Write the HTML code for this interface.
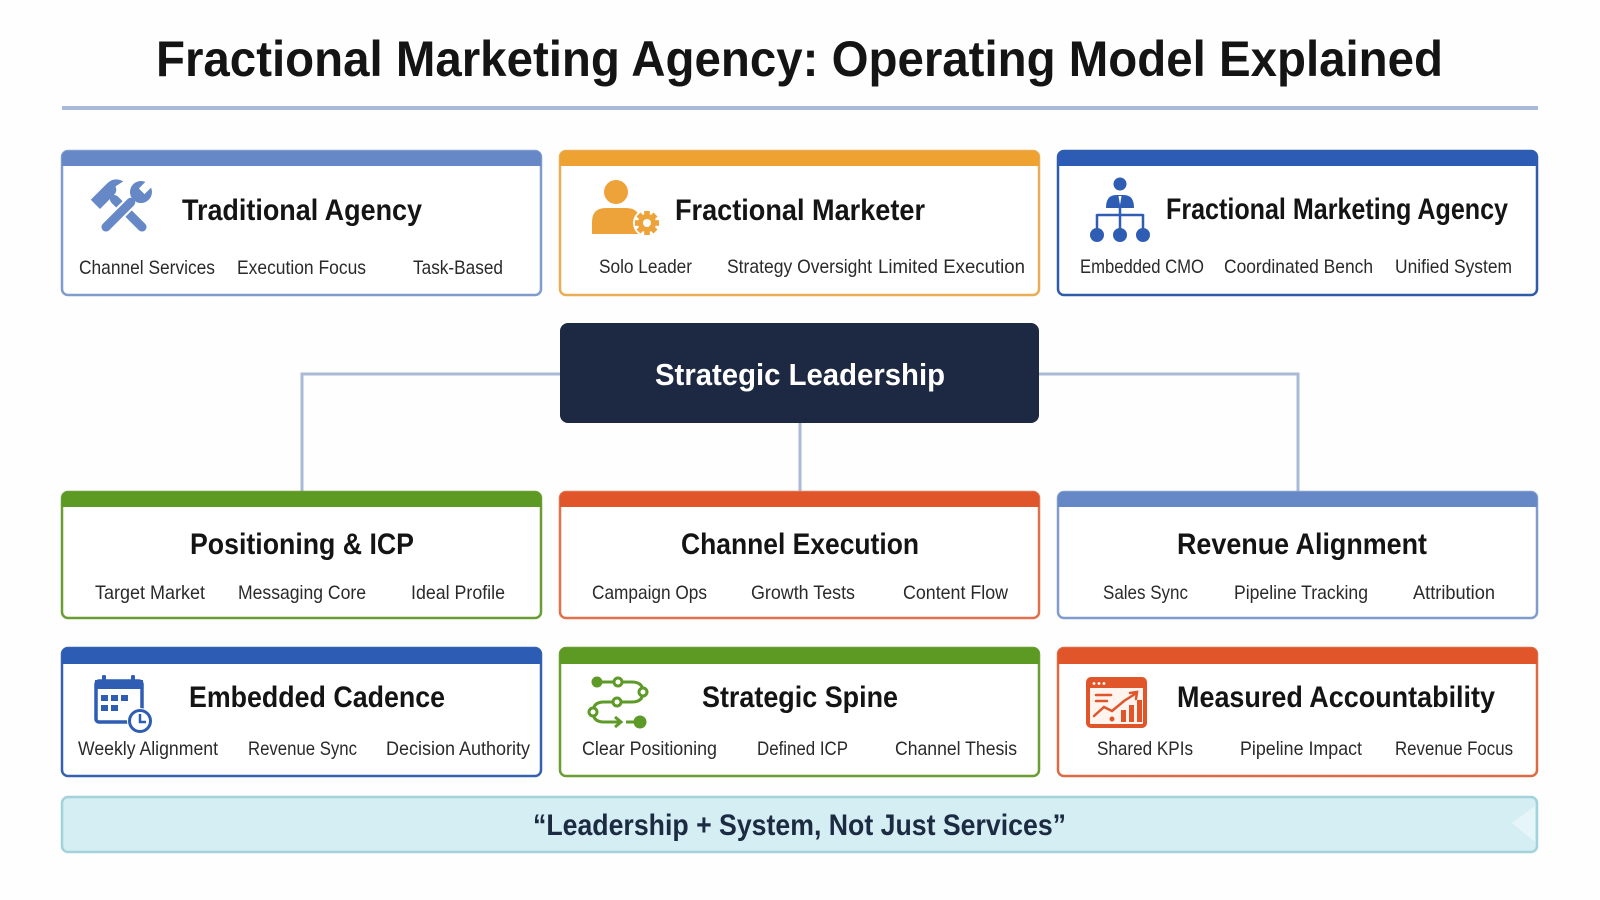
<!DOCTYPE html>
<html>
<head>
<meta charset="utf-8">
<style>
html,body{margin:0;padding:0;background:#ffffff;}
svg{display:block;}
.t{font-family:"Liberation Sans",Arial,sans-serif;font-weight:bold;fill:#141414;}
.s{font-family:"Liberation Sans",Arial,sans-serif;font-size:19.5px;fill:#2a2a2a;}
.ct{font-size:30px;}
</style>
</head>
<body>
<svg width="1600" height="900" viewBox="0 0 1600 900" xmlns="http://www.w3.org/2000/svg">
<rect x="0" y="0" width="1600" height="900" fill="#fefefe"/>

<!-- Title -->
<text class="t" x="156" y="76" font-size="50" textLength="1287" lengthAdjust="spacingAndGlyphs">Fractional Marketing Agency: Operating Model Explained</text>
<rect x="62" y="106" width="1476" height="4" fill="#a9b9d8"/>

<!-- Connectors -->
<g stroke="#a9b9d6" stroke-width="3" fill="none">
<polyline points="560,374 302,374 302,494"/>
<polyline points="1039,374 1298,374 1298,494"/>
<line x1="800" y1="423" x2="800" y2="494"/>
</g>

<!-- Row 1 cards -->
<rect x="62" y="151" width="479" height="144" rx="6" fill="#fff" stroke="#809ccd" stroke-width="2.5"/>
<path d="M62,166 V157 Q62,151 68,151 H535 Q541,151 541,157 V166 Z" fill="#6688c6"/>
<rect x="560" y="151" width="479" height="144" rx="6" fill="#fff" stroke="#e8ad55" stroke-width="2.5"/>
<path d="M560,166 V157 Q560,151 566,151 H1033 Q1039,151 1039,157 V166 Z" fill="#eda232"/>
<rect x="1058" y="151" width="479" height="144" rx="6" fill="#fff" stroke="#2f5ba9" stroke-width="2.5"/>
<path d="M1058,166 V157 Q1058,151 1064,151 H1531 Q1537,151 1537,157 V166 Z" fill="#2c5cb4"/>

<!-- Icon: hammer & wrench -->
<g fill="#6688c6">
  <g transform="translate(124,209) rotate(-45)">
    <rect x="-4.5" y="-18" width="9" height="48" rx="4.5"/>
    <path d="M-17,-30 H6 Q16,-30 19,-20 L10,-22 Q8,-17 3,-17 H-17 Z"/>
  </g>
  <g transform="translate(124,209) rotate(45)">
    <rect x="-6.5" y="-16" width="13" height="48" rx="6.5" fill="#fff"/>
    <rect x="-4.5" y="-14" width="9" height="44" rx="4.5"/>
    <circle cx="0" cy="-24" r="11"/>
    <rect x="-4" y="-38" width="8" height="13" fill="#fff"/>
  </g>
</g>

<!-- Icon: person + gear -->
<g fill="#eea23a">
  <circle cx="616" cy="192" r="12"/>
  <path d="M592,234 V222 Q592,208 606,208 H626 Q640,208 640,222 V234 Z"/>
  <circle cx="647" cy="223" r="14" fill="#fff"/>
  <g transform="translate(647,223)">
    <rect x="-2.8" y="-12" width="5.6" height="24"/>
    <rect x="-2.8" y="-12" width="5.6" height="24" transform="rotate(45)"/>
    <rect x="-2.8" y="-12" width="5.6" height="24" transform="rotate(90)"/>
    <rect x="-2.8" y="-12" width="5.6" height="24" transform="rotate(135)"/>
    <circle r="9"/>
    <circle r="4" fill="#fff"/>
  </g>
</g>

<!-- Icon: org chart -->
<g fill="#2f5db3">
  <circle cx="1120" cy="184" r="6.5"/>
  <path d="M1106,208 Q1106,195 1116,195 H1124 Q1134,195 1134,208 Z"/>
  <path d="M1118.5,196 H1121.5 L1120,205 Z" fill="#fff"/>
  <g stroke="#2f5db3" stroke-width="2.5" fill="none">
    <line x1="1120" y1="207" x2="1120" y2="230"/>
    <line x1="1097" y1="215" x2="1143" y2="215"/>
    <line x1="1097" y1="214" x2="1097" y2="230"/>
    <line x1="1143" y1="214" x2="1143" y2="230"/>
  </g>
  <circle cx="1097" cy="235" r="7"/>
  <circle cx="1120" cy="235" r="7"/>
  <circle cx="1143" cy="235" r="7"/>
</g>

<!-- Row 1 text -->
<text class="t ct" x="182" y="220" textLength="240" lengthAdjust="spacingAndGlyphs">Traditional Agency</text>
<text class="s" x="79" y="274" textLength="136" lengthAdjust="spacingAndGlyphs">Channel Services</text>
<text class="s" x="237" y="274" textLength="129" lengthAdjust="spacingAndGlyphs">Execution Focus</text>
<text class="s" x="413" y="274" textLength="90" lengthAdjust="spacingAndGlyphs">Task-Based</text>

<text class="t ct" x="675" y="220" textLength="250" lengthAdjust="spacingAndGlyphs">Fractional Marketer</text>
<text class="s" x="599" y="273" textLength="93" lengthAdjust="spacingAndGlyphs">Solo Leader</text>
<text class="s" x="727" y="273" textLength="145" lengthAdjust="spacingAndGlyphs">Strategy Oversight</text>
<text class="s" x="878" y="273" textLength="147" lengthAdjust="spacingAndGlyphs">Limited Execution</text>

<text class="t ct" x="1166" y="219" textLength="342" lengthAdjust="spacingAndGlyphs">Fractional Marketing Agency</text>
<text class="s" x="1080" y="273" textLength="124" lengthAdjust="spacingAndGlyphs">Embedded CMO</text>
<text class="s" x="1224" y="273" textLength="149" lengthAdjust="spacingAndGlyphs">Coordinated Bench</text>
<text class="s" x="1395" y="273" textLength="117" lengthAdjust="spacingAndGlyphs">Unified System</text>

<!-- Strategic Leadership -->
<rect x="560" y="323" width="479" height="100" rx="8" fill="#1d2942"/>
<text class="t" x="655" y="385" font-size="31" fill="#ffffff" style="fill:#ffffff" textLength="290" lengthAdjust="spacingAndGlyphs">Strategic Leadership</text>

<!-- Row 2 cards -->
<rect x="62" y="492" width="479" height="126" rx="6" fill="#fff" stroke="#6a9e32" stroke-width="2.5"/>
<path d="M62,507 V498 Q62,492 68,492 H535 Q541,492 541,498 V507 Z" fill="#5c9a24"/>
<rect x="560" y="492" width="479" height="126" rx="6" fill="#fff" stroke="#e2704c" stroke-width="2.5"/>
<path d="M560,507 V498 Q560,492 566,492 H1033 Q1039,492 1039,498 V507 Z" fill="#e0562a"/>
<rect x="1058" y="492" width="479" height="126" rx="6" fill="#fff" stroke="#809ccd" stroke-width="2.5"/>
<path d="M1058,507 V498 Q1058,492 1064,492 H1531 Q1537,492 1537,498 V507 Z" fill="#6688c6"/>

<text class="t ct" x="190" y="554" textLength="224" lengthAdjust="spacingAndGlyphs">Positioning &amp; ICP</text>
<text class="s" x="95" y="599" textLength="110" lengthAdjust="spacingAndGlyphs">Target Market</text>
<text class="s" x="238" y="599" textLength="128" lengthAdjust="spacingAndGlyphs">Messaging Core</text>
<text class="s" x="411" y="599" textLength="94" lengthAdjust="spacingAndGlyphs">Ideal Profile</text>

<text class="t ct" x="681" y="554" textLength="238" lengthAdjust="spacingAndGlyphs">Channel Execution</text>
<text class="s" x="592" y="599" textLength="115" lengthAdjust="spacingAndGlyphs">Campaign Ops</text>
<text class="s" x="751" y="599" textLength="104" lengthAdjust="spacingAndGlyphs">Growth Tests</text>
<text class="s" x="903" y="599" textLength="105" lengthAdjust="spacingAndGlyphs">Content Flow</text>

<text class="t ct" x="1177" y="554" textLength="250" lengthAdjust="spacingAndGlyphs">Revenue Alignment</text>
<text class="s" x="1103" y="599" textLength="85" lengthAdjust="spacingAndGlyphs">Sales Sync</text>
<text class="s" x="1234" y="599" textLength="134" lengthAdjust="spacingAndGlyphs">Pipeline Tracking</text>
<text class="s" x="1413" y="599" textLength="82" lengthAdjust="spacingAndGlyphs">Attribution</text>

<!-- Row 3 cards -->
<rect x="62" y="648" width="479" height="128" rx="6" fill="#fff" stroke="#3561b0" stroke-width="2.5"/>
<path d="M62,664 V654 Q62,648 68,648 H535 Q541,648 541,654 V664 Z" fill="#2c5cb4"/>
<rect x="560" y="648" width="479" height="128" rx="6" fill="#fff" stroke="#6a9e32" stroke-width="2.5"/>
<path d="M560,664 V654 Q560,648 566,648 H1033 Q1039,648 1039,654 V664 Z" fill="#5c9a24"/>
<rect x="1058" y="648" width="479" height="128" rx="6" fill="#fff" stroke="#dc6a44" stroke-width="2.5"/>
<path d="M1058,664 V654 Q1058,648 1064,648 H1531 Q1537,648 1537,654 V664 Z" fill="#e0562a"/>

<!-- Icon: calendar -->
<g fill="#2f5db3">
  <rect x="96" y="681" width="46" height="41" rx="3" fill="none" stroke="#2f5db3" stroke-width="3.5"/>
  <rect x="95" y="680" width="48" height="9"/>
  <rect x="102" y="675" width="4" height="10" rx="1.5"/>
  <rect x="131" y="675" width="4" height="10" rx="1.5"/>
  <rect x="101" y="695" width="7" height="6"/>
  <rect x="111" y="695" width="7" height="6"/>
  <rect x="121" y="695" width="7" height="6"/>
  <rect x="101" y="705" width="7" height="6"/>
  <rect x="111" y="705" width="7" height="6"/>
  <circle cx="140" cy="721" r="13" fill="#fff"/>
  <circle cx="140" cy="721" r="10.5" fill="#fff" stroke="#2f5db3" stroke-width="3"/>
  <polyline points="140,714 140,722 146,722" fill="none" stroke="#2f5db3" stroke-width="2.5"/>
</g>

<!-- Icon: strategic spine -->
<g stroke="#5e9a28" stroke-width="3" fill="none">
  <path d="M597,682 H632 Q643,682 643,692 Q643,702 632,702 H604 Q593,702 593,712 Q593,722 604,722 H620"/>
  <polyline points="615,717 621,722 615,727"/>
  <line x1="626" y1="722" x2="636" y2="722"/>
  <circle cx="618" cy="682" r="4" fill="#fff"/>
  <circle cx="643" cy="692" r="4" fill="#fff"/>
  <circle cx="617" cy="702" r="4" fill="#fff"/>
  <circle cx="593" cy="712" r="4" fill="#fff"/>
</g>
<circle cx="597" cy="682" r="5.5" fill="#5e9a28"/>
<circle cx="640" cy="722" r="6.5" fill="#5e9a28"/>

<!-- Icon: chart window -->
<g>
  <rect x="1088" y="679" width="57" height="47" rx="3" fill="#fff4ee" stroke="#e0562a" stroke-width="4"/>
  <rect x="1088" y="679" width="57" height="9" fill="#e0562a"/>
  <circle cx="1094" cy="683.5" r="1.4" fill="#fff"/>
  <circle cx="1099" cy="683.5" r="1.4" fill="#fff"/>
  <circle cx="1104" cy="683.5" r="1.4" fill="#fff"/>
  <g stroke="#e0562a" stroke-width="2.5" fill="none" stroke-linecap="round">
    <line x1="1096" y1="695" x2="1111" y2="695"/>
    <line x1="1096" y1="701" x2="1107" y2="701"/>
    <polyline points="1094,716 1104,707 1112,711 1124,701 1135,694"/>
    <polyline points="1130,693 1137,692 1136,699"/>
  </g>
  <rect x="1121" y="710" width="5" height="12" fill="#e0562a"/>
  <rect x="1129" y="705" width="5" height="17" fill="#e0562a"/>
  <rect x="1137" y="700" width="5" height="22" fill="#e0562a"/>
  <circle cx="1112" cy="719" r="2.5" fill="#e0562a"/>
</g>

<!-- Row 3 text -->
<text class="t ct" x="189" y="707" textLength="256" lengthAdjust="spacingAndGlyphs">Embedded Cadence</text>
<text class="s" x="78" y="755" textLength="140" lengthAdjust="spacingAndGlyphs">Weekly Alignment</text>
<text class="s" x="248" y="755" textLength="109" lengthAdjust="spacingAndGlyphs">Revenue Sync</text>
<text class="s" x="386" y="755" textLength="144" lengthAdjust="spacingAndGlyphs">Decision Authority</text>

<text class="t ct" x="702" y="707" textLength="196" lengthAdjust="spacingAndGlyphs">Strategic Spine</text>
<text class="s" x="582" y="755" textLength="135" lengthAdjust="spacingAndGlyphs">Clear Positioning</text>
<text class="s" x="757" y="755" textLength="91" lengthAdjust="spacingAndGlyphs">Defined ICP</text>
<text class="s" x="895" y="755" textLength="122" lengthAdjust="spacingAndGlyphs">Channel Thesis</text>

<text class="t ct" x="1177" y="707" textLength="318" lengthAdjust="spacingAndGlyphs">Measured Accountability</text>
<text class="s" x="1097" y="755" textLength="96" lengthAdjust="spacingAndGlyphs">Shared KPIs</text>
<text class="s" x="1240" y="755" textLength="122" lengthAdjust="spacingAndGlyphs">Pipeline Impact</text>
<text class="s" x="1395" y="755" textLength="118" lengthAdjust="spacingAndGlyphs">Revenue Focus</text>

<!-- Bottom banner -->
<rect x="62" y="797" width="1475" height="55" rx="6" fill="#d4eef3" stroke="#a3d2da" stroke-width="2.5"/>
<polygon points="1535,806 1512,823 1535,842" fill="#e6f5f8"/>
<text class="t" x="533" y="835" font-size="30" style="fill:#1c2a42" textLength="533" lengthAdjust="spacingAndGlyphs">“Leadership + System, Not Just Services”</text>
</svg>
</body>
</html>
